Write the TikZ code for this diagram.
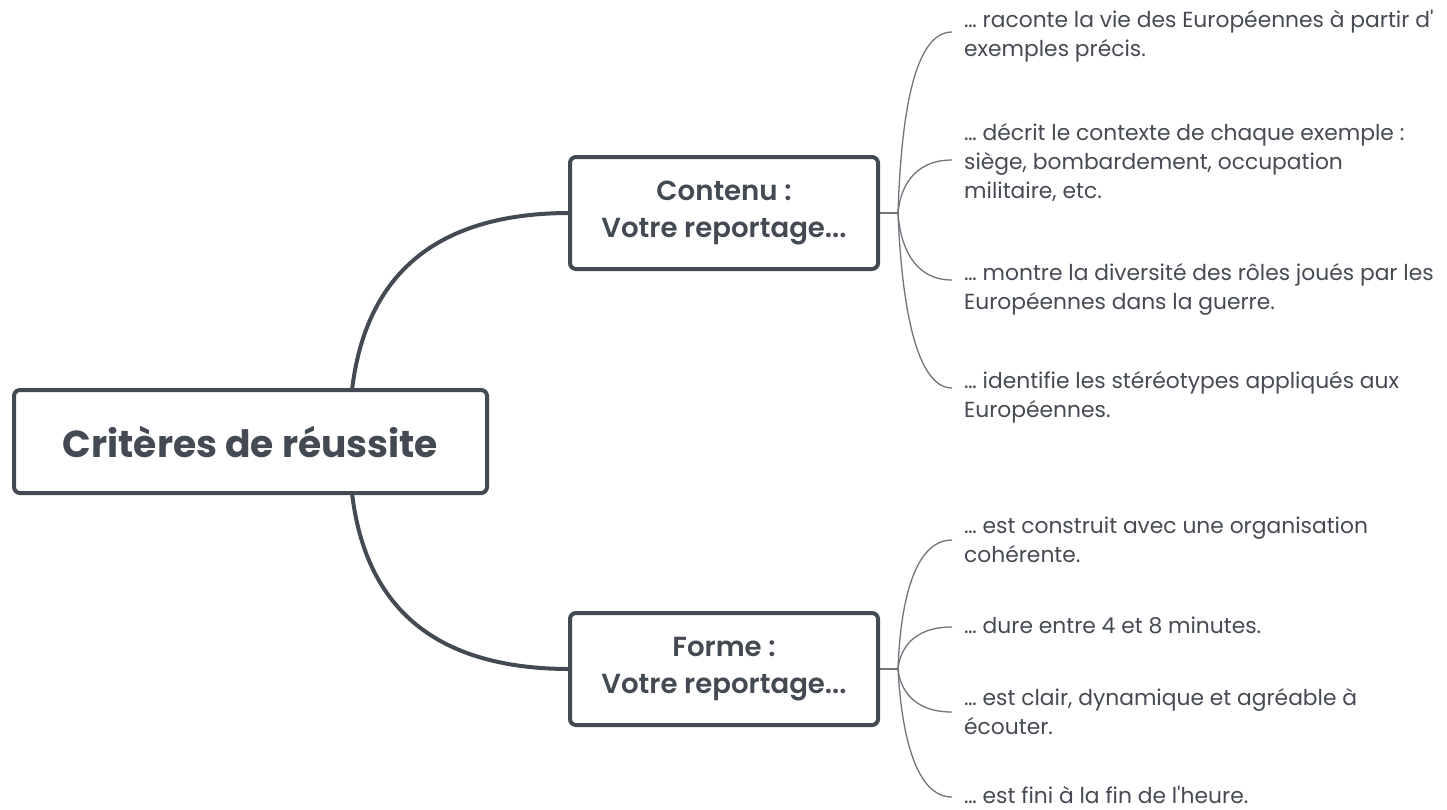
\documentclass[tikz,border=0pt]{standalone}
\usepackage{fontspec}
\setmainfont{Poppins}
\newfontfamily\semib{Poppins SemiBold}
\newfontfamily\boldf{Poppins Bold}
\definecolor{boxc}{HTML}{444A53}
\definecolor{linec}{HTML}{70757C}
\definecolor{leaftxt}{HTML}{464B53}
\begin{document}
\begin{tikzpicture}[x=1pt,y=-1pt,
  box/.style={draw=boxc, line width=4pt, rounded corners=6pt, fill=white,
    text=boxc, align=center, inner sep=0pt},
  leaf/.style={anchor=base west, align=left, inner sep=0pt, text=leaftxt,
    font=\fontsize{21.8}{29.3}\selectfont},
  thick link/.style={draw=boxc, line width=4pt},
  thin link/.style={draw=linec, line width=1.3pt}]
\useasboundingbox (0,0) rectangle (1447,809);
\fill[white] (0,0) rectangle (1447,809);

% junctions and curve ends
\coordinate (j1) at (898,213);
\coordinate (j2) at (898,669);
\coordinate (e1) at (952,32);
\coordinate (e2) at (952,160);
\coordinate (e3) at (952,280);
\coordinate (e4) at (952,388);
\coordinate (e5) at (952,540);
\coordinate (e6) at (952,627);
\coordinate (e7) at (952,712);
\coordinate (e8) at (952,797);
\coordinate (r1) at (352,390);
\coordinate (r2) at (352,493);

% main links
\draw[thick link] (r1) .. controls (365,280) and (430,213) .. (570,213);
\draw[thick link] (r2) .. controls (365,603) and (430,669) .. (570,669);

% boxes
\node[box, minimum width=473pt, minimum height=103pt,
  font=\boldf\fontsize{37.6}{40}\selectfont] (root) at (250.5,441.5) {Critères de réussite};
\node[box, minimum width=308pt, minimum height=112pt,
  font=\semib\fontsize{27.6}{37}\selectfont] (contenu) at (724,213) {Contenu :\\Votre reportage...};
\node[box, minimum width=308pt, minimum height=112pt,
  font=\semib\fontsize{27.6}{37}\selectfont] (forme) at (724,669) {Forme :\\Votre reportage...};

% stubs
\draw[thin link] (contenu.east) -- (j1);
\draw[thin link] (forme.east) -- (j2);

% leaf links
\draw[thin link] (j1) .. controls (901,120) and (913,32) .. (e1);
\draw[thin link] (j1) .. controls (900,190) and (912,160) .. (e2);
\draw[thin link] (j1) .. controls (900,243) and (912,280) .. (e3);
\draw[thin link] (j1) .. controls (901,290) and (913,388) .. (e4);
\draw[thin link] (j2) .. controls (900,610) and (912,540) .. (e5);
\draw[thin link] (j2) .. controls (900,650) and (912,627) .. (e6);
\draw[thin link] (j2) .. controls (900,688) and (912,712) .. (e7);
\draw[thin link] (j2) .. controls (901,725) and (913,797) .. (e8);

% leaves (anchored at the baseline of their last line)
\node[leaf] (l1) at (964,56.3) {… raconte la vie des Européennes à partir d\textquotesingle\\exemples précis.};
\node[leaf] (l2) at (964,198.6) {… décrit le contexte de chaque exemple :\\siège, bombardement, occupation\\militaire, etc.};
\node[leaf] (l3) at (964,309.3) {… montre la diversité des rôles joués par les\\Européennes dans la guerre.};
\node[leaf] (l4) at (964,417.3) {… identifie les stéréotypes appliqués aux\\Européennes.};
\node[leaf] (l5) at (964,562.3) {… est construit avec une organisation\\cohérente.};
\node[leaf] (l6) at (964,633) {… dure entre 4 et 8 minutes.};
\node[leaf] (l7) at (964,734.3) {… est clair, dynamique et agréable à\\écouter.};
\node[leaf] (l8) at (964,803.5) {… est fini à la fin de l\textquotesingle heure.};
\end{tikzpicture}
\end{document}
